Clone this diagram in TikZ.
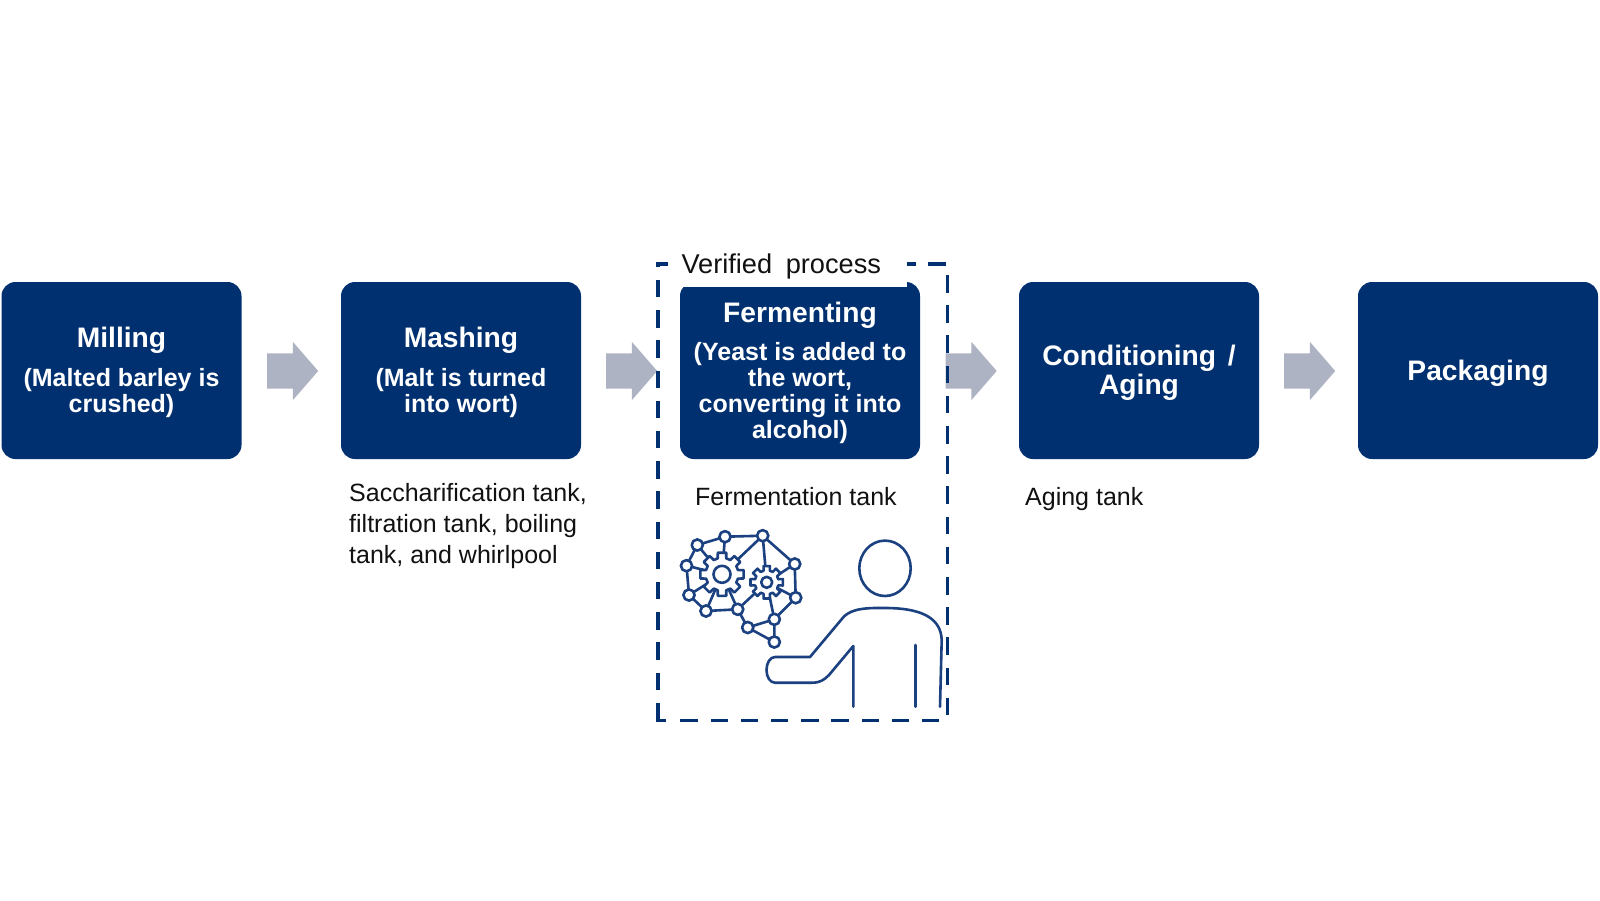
\documentclass[tikz,border=0pt]{standalone}
\usepackage{fontspec}
\setmainfont{Liberation Sans}
\usetikzlibrary{shapes.arrows}
\definecolor{boxblue}{HTML}{003070}
\definecolor{linkblue}{HTML}{1B4180}
\definecolor{arrowgrey}{HTML}{AEB3C4}
\definecolor{txt}{HTML}{111111}
\newcommand{\ttl}[1]{{\fontsize{28.2}{30}\selectfont\rule{0pt}{24.5pt}#1}}
\newcommand{\bodyt}{\fontsize{25}{25.7}\selectfont}
\tikzset{
  stage/.style={rectangle, rounded corners=14pt, fill=boxblue, text=white, font=\bfseries\bodyt,
    minimum width=240pt, minimum height=177pt, align=center, inner sep=0pt},
  flow/.style={single arrow, fill=arrowgrey, minimum height=51pt, minimum width=58pt,
    single arrow head extend=11.5pt, single arrow tip angle=98, inner xsep=0pt, inner ysep=17.5pt, shape border rotate=0},
  note/.style={text=txt, anchor=west, align=left, inner sep=0pt, font=\fontsize{25}{30.6}\selectfont},
  verifiedbox/.style={minimum width=289pt, minimum height=456pt, inner sep=0pt},
  frameline/.style={draw=boxblue, line width=3.4pt, dash pattern=on 17.5pt off 12.7pt},
  headerpatch/.style={fill=white, text=txt, text width=212pt, inner xsep=13.5pt, inner ysep=0pt, minimum height=42pt, align=left, font=\fontsize{27.2}{30}\selectfont},
  iconline/.style={draw=linkblue, line width=2.6pt, line join=round, line cap=round},
  dot/.style={iconline, fill=white}
}
\newcommand{\gearshape}[5]{% x,y,outer,root,ring
  \draw[iconline, fill=white, shift={(#1,#2)}] (-11:#3)
    \foreach \k in {0,45,...,315}{ -- ({\k-11}:#3) -- ({\k+11}:#3) -- ({\k+15}:#4) -- ({\k+30}:#4) }
    -- cycle;
  \draw[iconline] (#1,#2) circle[radius=#5];
}
\begin{document}
\begin{tikzpicture}[x=1pt,y=-1pt]
\useasboundingbox (0,0) rectangle (1600,900);
\fill[white] (0,0) rectangle (1600,900);

% stages
\node[stage] (milling) at (121.5,370.5) {\ttl{Milling}\\[13pt](Malted barley is\\crushed)};
\node[stage] (mashing) at (461,370.5) {\ttl{Mashing}\\[13pt](Malt is turned\\into wort)};
\node[stage] (conditioning) at (1139,370.5) {\ttl{Conditioning\hspace{4pt} /}\\[2pt]{\fontsize{28.2}{30}\selectfont Aging}};
\node[stage] (packaging) at (1478,370.5) {\fontsize{28.2}{30}\selectfont\rule{0pt}{26pt}Packaging};

% block arrows
\node[flow] (a1) at (285,371) {};
\node[flow] (a2) at (624,371) {};
\node[flow] (a3) at (963.5,371) {};
\node[flow] (a4) at (1302,371) {};

% verified process frame
\node[verifiedbox] (verified) at (802.5,492) {};
\draw[frameline] (verified.south west) -- (verified.north west) -- ([xshift=40pt]verified.north west);
\draw[boxblue, line width=3.4pt] ([xshift=8pt]verified.south west) -- ([xshift=-1.7pt]verified.south west);
\draw[frameline] ([xshift=-49.2pt]verified.north east) -- (verified.north east) -- (verified.south east) -- ([xshift=11pt]verified.south west);
\node[stage] (fermenting) at (800,370.5) {\ttl{Fermenting}\\[13pt](Yeast is added to\\the wort,\\converting it into\\alcohol)};
\node[headerpatch] (header) at (787.5,266) {Verified\hspace{4.5pt} process};

% notes
\node[note] (n1) at (349,526) {Saccharification tank,\\filtration tank, boiling\\tank, and whirlpool};
\node[note] (n2) at (695,497) {Fermentation tank};
\node[note] (n3) at (1025,499) {Aging tank};

% icon: network
\coordinate (a) at (697.3,545);
\coordinate (b) at (725,536.7);
\coordinate (c) at (762.7,535.7);
\coordinate (d) at (794.7,564);
\coordinate (e) at (795.7,597.7);
\coordinate (f) at (774.3,619.3);
\coordinate (g) at (774.3,642);
\coordinate (h) at (747.7,627.5);
\coordinate (i) at (737.7,609.3);
\coordinate (j) at (706,611);
\coordinate (k) at (689,595);
\coordinate (l) at (686.5,565.7);
\coordinate (G) at (722,574.3);
\coordinate (S) at (766.7,582.3);
\draw[iconline] (a)--(b)--(c)--(d)--(e)--(f)--(g)--(h)--(f) (h)--(i)--(j)--(k)--(l)--(a);
\draw[iconline] (c)--(G) (c)--(S) (d)--(S) (e)--(S) (f)--(S) (i)--(S) (i)--(G) (j)--(G) (k)--(G) (l)--(G) (a)--(G) (b)--(G);
\gearshape{722}{574.3}{22}{16.5}{8.5}
\gearshape{766.7}{582.3}{16.5}{12}{5.5}
\foreach \p in {a,b,c,d,e,f,g,h,i,j,k,l} \draw[dot] (\p) circle[radius=5.6];

% icon: person
\draw[iconline] (885,568.3) ellipse[x radius=25.7, y radius=27.7];
\draw[iconline] (940,706.7) -- (941.7,640) .. controls (941,620) and (925,608) .. (885,608)
  .. controls (860,607.5) and (848,610) .. (841,620) -- (810,657) -- (775,657)
  .. controls (770,657) and (766.5,663) .. (766.5,670) .. controls (766.5,677) and (770,682.7) .. (775,682.7)
  -- (812,682.7) .. controls (820,682.7) and (824,680) .. (829,675) -- (853.3,646) -- (853.3,706.7);
\draw[iconline] (915.7,645) -- (915.7,706.7);
\end{tikzpicture}
\end{document}
